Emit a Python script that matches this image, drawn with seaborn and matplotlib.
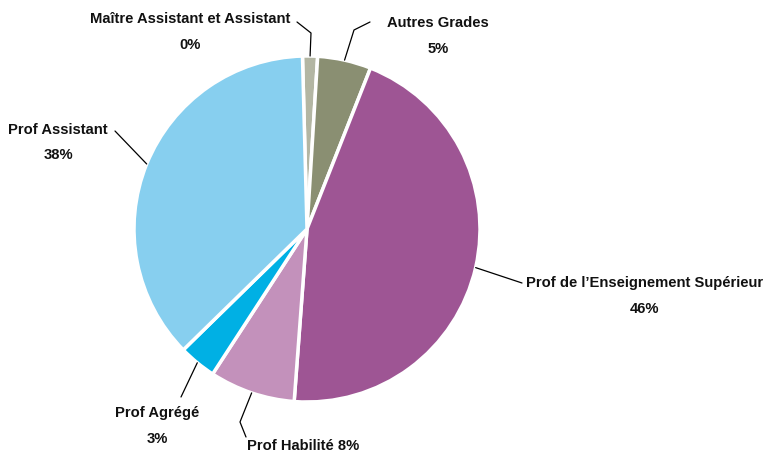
import numpy as np
import matplotlib
matplotlib.use("Agg")
import matplotlib.pyplot as plt
import seaborn as sns

# data
grades = ["Maître Assistant et Assistant", "Autres Grades",
          "Prof de l’Enseignement Supérieur", "Prof Habilité",
          "Prof Agrégé", "Prof Assistant"]
shares = [1.4, 5.0, 45.2, 8.0, 3.5, 36.9]
pct_labels = ["0%", "5%", "46%", "8%", "3%", "38%"]
colors = ["#b3b6a3", "#8a8f72", "#9e5594", "#c391bb", "#00b0e4", "#87cfef"]

sns.set_theme(style="white")
plt.rcParams["font.family"] = ["Liberation Sans", "DejaVu Sans"]

W, H = 769, 453
fig = plt.figure(figsize=(W / 100, H / 100), dpi=100)
ax = fig.add_axes([0, 0, 1, 1])

cx, cy, R = 307, H - 229, 173
wedges, _ = ax.pie(shares, colors=colors, startangle=91.5, counterclock=False,
                   center=(cx, cy), radius=R,
                   wedgeprops=dict(edgecolor="white", linewidth=2.5))
ax.set_xlim(0, W)
ax.set_ylim(0, H)
ax.set_aspect("equal")
ax.axis("off")

# leader line elbows and label anchors (image pixel coords, y down)
elbows = [
    [(311, 33), (297, 22)],
    [(354, 30), (370, 22)],
    [(522, 283)],
    [(240, 422), (246, 437)],
    [(181, 397)],
    [(115, 131)],
]
# (x, baseline name, baseline pct, ha)
label_pos = [
    (190, 23, 49, "center"),
    (438, 27, 53, "center"),
    (645, 287, 313, "center"),
    (247, 450, None, "left"),
    (157, 417, 443, "center"),
    (58, 134, 159, "center"),
]

fs = 10.6
for w, name, pct, el, (tx, by1, by2, ha) in zip(wedges, grades, pct_labels, elbows, label_pos):
    ang = np.deg2rad((w.theta1 + w.theta2) / 2)
    x0 = cx + R * np.cos(ang)
    y0 = cy + R * np.sin(ang)
    xs = [x0] + [p[0] for p in el]
    ys = [y0] + [H - p[1] for p in el]
    ax.plot(xs, ys, color="black", lw=0.9)
    if by2 is None:
        ax.text(tx, H - by1, f"{name} {pct}", ha=ha, va="baseline",
                fontsize=fs, fontweight="bold", color="#111111")
    else:
        ax.text(tx, H - by1, name, ha=ha, va="baseline",
                fontsize=fs, fontweight="bold", color="#111111")
        ax.text(tx, H - by2, pct, ha=ha, va="baseline",
                fontsize=fs, fontweight="bold", color="#111111")

fig.savefig("out.png", dpi=100)
